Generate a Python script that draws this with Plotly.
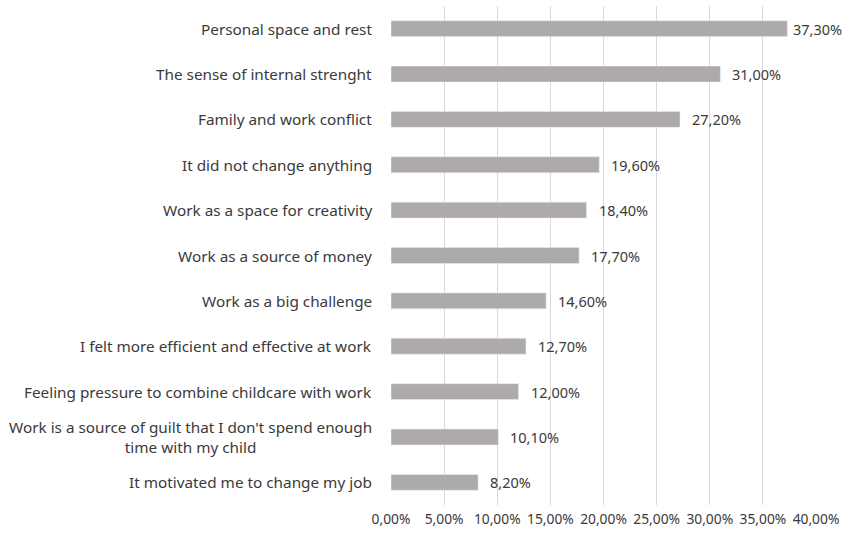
import plotly.graph_objects as go

categories = [
    "Personal space and rest",
    "The sense of internal strenght",
    "Family and work conflict",
    "It did not change anything",
    "Work as a space for creativity",
    "Work as a source of money",
    "Work as a big challenge",
    "I felt more efficient and effective at work",
    "Feeling pressure to combine childcare with work",
    "Work is a source of guilt that I don't spend enough<br>time with my child",
    "It motivated me to change my job",
]
values = [37.3, 31.0, 27.2, 19.6, 18.4, 17.7, 14.6, 12.7, 12.0, 10.1, 8.2]
tick_vals = [0, 5, 10, 15, 20, 25, 30, 35, 40]
tick_text = [f"{v:.2f}%".replace(".", ",") for v in tick_vals]
labels = [f"{v:.2f}%".replace(".", ",") for v in values]

TEXT = "#3a3a3a"
FONT = "Noto Sans"

fig = go.Figure(go.Bar(
    y=categories, x=values, orientation="h",
    marker=dict(color="#aeaaaa"),
    width=0.35,
))

# category labels (centered multi-line, right anchored)
for cat in categories:
    fig.add_annotation(
        x=0, xref="paper", y=cat, yref="y", text=cat,
        xanchor="right", yanchor="middle", align="center",
        xshift=-17, showarrow=False,
        font=dict(family=FONT, size=15.3, color=TEXT),
    )

# data labels
for i, (cat, v, lab) in enumerate(zip(categories, values, labels)):
    fig.add_annotation(
        x=v, xref="x", y=cat, yref="y", text=lab,
        xanchor="left", yanchor="middle", showarrow=False,
        xshift=4 if i == 0 else 10,
        font=dict(family=FONT, size=14.5, color=TEXT),
    )

fig.update_layout(
    width=849, height=534,
    margin=dict(l=391, r=33, t=6, b=29),
    paper_bgcolor="white", plot_bgcolor="white",
    font=dict(family=FONT, size=14, color=TEXT),
    showlegend=False,
)
fig.update_xaxes(range=[0, 40], tickvals=tick_vals, ticktext=tick_text,
                 showgrid=True, gridcolor="#d9d9d9", gridwidth=1,
                 zeroline=False, showline=False,
                 tickfont=dict(size=13.8), ticklabelstandoff=4)
fig.update_yaxes(autorange="reversed", showgrid=False, showline=False,
                 ticks="", showticklabels=False)
fig.write_html("out.html")
